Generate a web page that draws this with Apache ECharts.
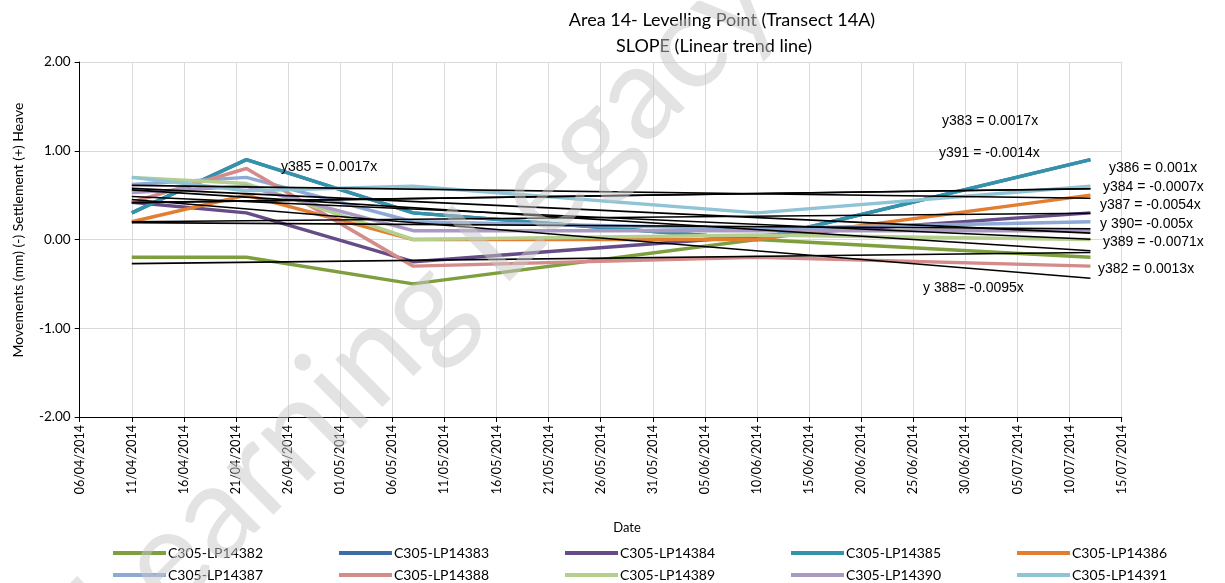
<!DOCTYPE html>
<html lang="en">
<head>
  <meta charset="UTF-8">
  <title>Area 14 - Levelling Point</title>
</head>
<body style="margin:0">
  <div id="chart" style="width:1225px;height:583px;"></div>
</body>
</html>
<script src="https://cdn.jsdelivr.net/npm/echarts@6/dist/echarts.min.js"></script>
<script>
  // survey dates and readings (mm)
  var dates = ['11/04/2014', '22/04/2014', '08/05/2014', '10/06/2014', '12/07/2014'];
  var names = ['C305-LP14382', 'C305-LP14383', 'C305-LP14384', 'C305-LP14385', 'C305-LP14386',
    'C305-LP14387', 'C305-LP14388', 'C305-LP14389', 'C305-LP14390', 'C305-LP14391'];
  var lp382 = [-0.2, -0.2, -0.5, 0.0, -0.2];
  var lp383 = [0.3, 0.9, 0.3, 0.0, 0.9];
  var lp384 = [0.42, 0.3, -0.25, 0.04, 0.3];
  var lp385 = [0.3, 0.9, 0.3, 0.0, 0.9];
  var lp386 = [0.2, 0.5, 0.0, 0.0, 0.5];
  var lp387 = [0.62, 0.7, 0.2, 0.12, 0.2];
  var lp388 = [0.42, 0.8, -0.3, -0.2, -0.3];
  var lp389 = [0.7, 0.63, 0.0, 0.05, 0.0];
  var lp390 = [0.53, 0.6, 0.1, 0.1, 0.1];
  var lp391 = [0.7, 0.55, 0.6, 0.3, 0.6];
  var trendLabels = ['y382 = 0.0013x', 'y383 = 0.0017x', 'y384 = -0.0007x', 'y385 = 0.0017x', 'y386 = 0.001x',
    'y387 = -0.0054x', 'y 388= -0.0095x', 'y389 = -0.0071x', 'y 390= -0.005x', 'y391 = -0.0014x'];

  var values = [lp382, lp383, lp384, lp385, lp386, lp387, lp388, lp389, lp390, lp391];
  var colors = ['#7E9F3E', '#3B6EA5', '#654C86', '#3393AB', '#E37D2F',
    '#8EA9D6', '#D48C8A', '#B5CF8E', '#A999C4', '#8FC3D6'];
  // where the trend equations sit on the page
  var labelPos = [[1098, 269], [942, 121], [1103, 187], [281, 167], [1109, 168],
    [1100, 205], [923, 288], [1103, 242], [1100, 224], [939, 153]];

  var DAY = 24 * 3600 * 1000;
  var base = Date.UTC(2014, 3, 6);
  function dayOf(s) {
    var p = s.split('/');
    return Math.round((Date.UTC(+p[2], +p[1] - 1, +p[0]) - base) / DAY);
  }
  function fmt(d) {
    var t = new Date(base + d * DAY);
    var dd = ('0' + t.getUTCDate()).slice(-2), mm = ('0' + (t.getUTCMonth() + 1)).slice(-2);
    return dd + '/' + mm + '/' + t.getUTCFullYear();
  }
  var xs = dates.map(dayOf);

  // least squares line over the survey dates
  function trend(ys) {
    var n = xs.length, mx = 0, my = 0, sxx = 0, sxy = 0;
    for (var i = 0; i < n; i++) { mx += xs[i] / n; my += ys[i] / n; }
    for (var i = 0; i < n; i++) { sxx += (xs[i] - mx) * (xs[i] - mx); sxy += (xs[i] - mx) * (ys[i] - my); }
    var b = sxy / sxx, a = my - b * mx;
    return [[xs[0], a + b * xs[0]], [xs[n - 1], a + b * xs[n - 1]]];
  }

  var font = 'Lato';
  var series = [];
  values.forEach(function (v, i) {
    series.push({
      name: names[i], type: 'line', symbol: 'none', silent: true,
      lineStyle: { width: 3.5, color: colors[i] }, itemStyle: { color: colors[i] },
      data: v.map(function (y, j) { return [xs[j], y]; })
    });
  });
  values.forEach(function (v, i) {
    series.push({
      name: 'trend' + i, type: 'line', symbol: 'none', silent: true, z: 3,
      lineStyle: { width: 1.6, color: '#000' },
      data: trend(v)
    });
  });

  var legends = names.map(function (n, i) {
    return {
      data: [n], left: 108 + (i % 5) * 226, top: i < 5 ? 541 : 563,
      icon: 'rect', itemWidth: 53, itemHeight: 4, itemGap: 0, selectedMode: false,
      textStyle: { fontFamily: font, fontSize: 14, color: '#000', padding: [0, 0, 0, -3] }
    };
  });

  var graphics = [
    { type: 'text', x: 722, y: 20, style: { text: 'Area 14- Levelling Point (Transect 14A)', font: '18px ' + font, fill: '#000', textAlign: 'center', textVerticalAlign: 'middle' } },
    { type: 'text', x: 714, y: 46, style: { text: 'SLOPE (Linear trend line)', font: '18px ' + font, fill: '#000', textAlign: 'center', textVerticalAlign: 'middle' } },
    { type: 'text', x: 627, y: 528, style: { text: 'Date', font: '13px ' + font, fill: '#000', textAlign: 'center', textVerticalAlign: 'middle' } },
    { type: 'text', x: 18, y: 230, rotation: Math.PI / 2, style: { text: 'Movements (mm) (-) Settlement (+) Heave', font: '14px ' + font, fill: '#000', textAlign: 'center', textVerticalAlign: 'middle' } }
  ];
  trendLabels.forEach(function (t, i) {
    graphics.push({ type: 'text', x: labelPos[i][0], y: labelPos[i][1], z: 50,
      style: { text: t, font: '14px "Liberation Sans"', fill: '#000', textVerticalAlign: 'middle' } });
  });
  graphics.push({ type: 'text', x: 425, y: 305, rotation: 0.78, z: 100,
    style: { text: 'Learning Legacy', font: '132px ' + font, fill: 'rgba(200,200,200,0.5)', textAlign: 'center', textVerticalAlign: 'middle' } });

  var myChart = echarts.init(document.getElementById('chart'));
  var option = {
    animation: false,
    backgroundColor: '#fff',
    legend: legends,
    grid: { left: 79.7, right: 103.3, top: 62, bottom: 166, containLabel: false },
    xAxis: {
      type: 'value', min: 0, max: 100, interval: 5,
      axisLine: { onZero: false, lineStyle: { color: '#000', width: 1 } },
      axisTick: { show: true, length: 5, lineStyle: { color: '#000' } },
      axisLabel: { rotate: 90, margin: 8, fontFamily: font, fontSize: 12.5, color: '#000', formatter: fmt },
      splitLine: { show: true, lineStyle: { color: '#D9D9D9' } }
    },
    yAxis: {
      type: 'value', min: -2, max: 2, interval: 1,
      axisLine: { show: true, lineStyle: { color: '#000', width: 1 } },
      axisTick: { show: true, length: 5, lineStyle: { color: '#000' } },
      axisLabel: { margin: 9, fontFamily: font, fontSize: 13.5, color: '#000', formatter: function (v) { return v.toFixed(2); } },
      splitLine: { show: true, lineStyle: { color: '#D9D9D9' } }
    },
    graphic: graphics,
    series: series
  };
  myChart.setOption(option);
</script>
